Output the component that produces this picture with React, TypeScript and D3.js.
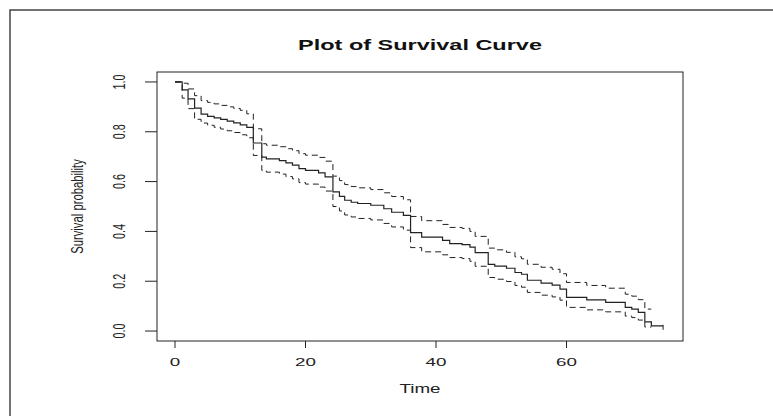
import React, { useEffect } from "react";
import * as d3 from "d3";

// Kaplan-Meier estimate (step times in months)
const times = [0, 1.1, 2, 3, 4, 5, 6, 7, 8, 9, 10, 11, 12, 13.3, 14, 16, 17, 18, 19, 20, 22, 23, 24.2, 25.2, 26, 27, 28, 30, 32, 33.2, 35, 36.1, 37.8, 41, 42.1, 44, 45.2, 46, 48, 49, 50.8, 52.1, 53.1, 54, 56.1, 57.8, 59, 60, 63.1, 66, 69, 70, 71, 72, 73];
const survival = [1.0, 0.968, 0.932, 0.895, 0.871, 0.862, 0.856, 0.85, 0.843, 0.836, 0.828, 0.818, 0.755, 0.698, 0.691, 0.684, 0.675, 0.666, 0.652, 0.645, 0.635, 0.619, 0.559, 0.541, 0.525, 0.517, 0.512, 0.505, 0.491, 0.477, 0.464, 0.395, 0.377, 0.364, 0.351, 0.347, 0.337, 0.315, 0.268, 0.261, 0.252, 0.235, 0.228, 0.204, 0.192, 0.184, 0.168, 0.135, 0.125, 0.115, 0.095, 0.088, 0.075, 0.037, 0.021];
const upper = [1.0, 0.995, 0.972, 0.945, 0.925, 0.918, 0.912, 0.906, 0.9, 0.894, 0.886, 0.872, 0.812, 0.752, 0.746, 0.74, 0.732, 0.724, 0.712, 0.706, 0.697, 0.682, 0.622, 0.604, 0.588, 0.58, 0.575, 0.568, 0.555, 0.54, 0.527, 0.46, 0.443, 0.428, 0.416, 0.412, 0.4, 0.38, 0.333, 0.326, 0.316, 0.298, 0.29, 0.268, 0.256, 0.248, 0.23, 0.195, 0.183, 0.172, 0.148, 0.14, 0.126, 0.088, null];
const lower = [1.0, 0.935, 0.893, 0.85, 0.835, 0.826, 0.818, 0.811, 0.804, 0.797, 0.788, 0.776, 0.705, 0.645, 0.638, 0.63, 0.62, 0.611, 0.596, 0.59, 0.578, 0.562, 0.5, 0.482, 0.466, 0.458, 0.452, 0.446, 0.432, 0.418, 0.405, 0.335, 0.318, 0.306, 0.295, 0.291, 0.28, 0.26, 0.215, 0.208, 0.199, 0.183, 0.176, 0.155, 0.144, 0.137, 0.124, 0.095, 0.085, 0.077, 0.06, 0.054, 0.044, 0.016, null];
const lastTime = 74.8;
const censorTimes = [74.8];
const xTicks = [0, 20, 40, 60];
const yTicks = [0, 0.2, 0.4, 0.6, 0.8, 1.0];

const W = 773;
const H = 416;
const FONT = "'Liberation Sans', Arial, Helvetica, sans-serif";
const INK = "#222";

export default function App() {
  useEffect(() => {
    document.body.style.margin = "0";
  }, []);

  const x = d3.scaleLinear().domain([-2.76, 77.85]).range([157, 683]);
  const y = d3.scaleLinear().domain([-0.04, 1.04]).range([341, 72]);

  const step = d3
    .line<[number, number]>()
    .x((d) => x(d[0]))
    .y((d) => y(d[1]))
    .curve(d3.curveStepAfter);

  const survPts: [number, number][] = times.map((t, i) => [t, survival[i]] as [number, number]);
  survPts.push([lastTime, survival[survival.length - 1]]);

  const ciIdx = times.map((_, i) => i).filter((i) => upper[i] != null);
  const lastCi = ciIdx[ciIdx.length - 1];
  const ciEnd = times[lastCi + 1];
  const band = (vals: (number | null)[]) => {
    const pts: [number, number][] = ciIdx.map((i) => [times[i], vals[i] as number] as [number, number]);
    pts.push([ciEnd, vals[lastCi] as number]);
    return pts;
  };

  const survAt = (t: number) => {
    const i = d3.bisectRight(times, t) - 1;
    return survival[Math.max(0, i)];
  };

  const [x0, x1] = x.range();
  const [y0, y1] = y.range();

  return (
    <svg width={W} height={H} style={{ display: "block", background: "#fff" }}>
      {/* outer frame */}
      <rect x={10} y={10} width={W} height={H} fill="none" stroke="#444" strokeWidth={1.5} />

      <text
        transform={`translate(${(x0 + x1) / 2},45) scale(1.62,1)`}
        textAnchor="middle"
        dy="0.35em"
        fontFamily={FONT}
        fontWeight="bold"
        fontSize={14.5}
        fill="#111"
      >
        Plot of Survival Curve
      </text>

      {/* plot box */}
      <rect x={x0} y={y1} width={x1 - x0} height={y0 - y1} fill="none" stroke={INK} strokeWidth={1} />

      {/* x axis */}
      <line x1={x(0)} x2={x(60)} y1={y0} y2={y0} stroke="none" />
      {xTicks.map((t) => (
        <g key={"x" + t}>
          <line x1={x(t)} x2={x(t)} y1={y0} y2={y0 + 7} stroke={INK} />
          <text
            transform={`translate(${x(t)},362) scale(1.68,1)`}
            textAnchor="middle"
            dy="0.35em"
            fontFamily={FONT}
            fontSize={11.2}
            fill={INK}
          >
            {t}
          </text>
        </g>
      ))}
      <text
        transform={`translate(${(x0 + x1) / 2},389) scale(1.57,1)`}
        textAnchor="middle"
        dy="0.35em"
        fontFamily={FONT}
        fontSize={12}
        fill={INK}
      >
        Time
      </text>

      {/* y axis */}
      {yTicks.map((v) => (
        <g key={"y" + v}>
          <line x1={x0 - 12} x2={x0} y1={y(v)} y2={y(v)} stroke={INK} />
          <text
            transform={`translate(120,${y(v)}) scale(1.45,1) rotate(-90)`}
            textAnchor="middle"
            dy="0.35em"
            fontFamily={FONT}
            fontSize={10.8}
            fill={INK}
          >
            {v.toFixed(1)}
          </text>
        </g>
      ))}
      <text
        transform={`translate(77,${(y0 + y1) / 2}) scale(1.5,1) rotate(-90)`}
        textAnchor="middle"
        dy="0.35em"
        fontFamily={FONT}
        fontSize={11.3}
        fill={INK}
      >
        Survival probability
      </text>

      {/* confidence limits */}
      <path d={step(band(upper)) || ""} fill="none" stroke={INK} strokeWidth={1} strokeDasharray="6,4" />
      <path d={step(band(lower)) || ""} fill="none" stroke={INK} strokeWidth={1} strokeDasharray="6,4" />

      {/* survival curve */}
      <path d={step(survPts) || ""} fill="none" stroke={INK} strokeWidth={1.2} />
      {censorTimes.map((t) => (
        <line key={"c" + t} x1={x(t)} x2={x(t)} y1={y(survAt(t)) - 1} y2={y(survAt(t)) + 4} stroke={INK} />
      ))}
    </svg>
  );
}
